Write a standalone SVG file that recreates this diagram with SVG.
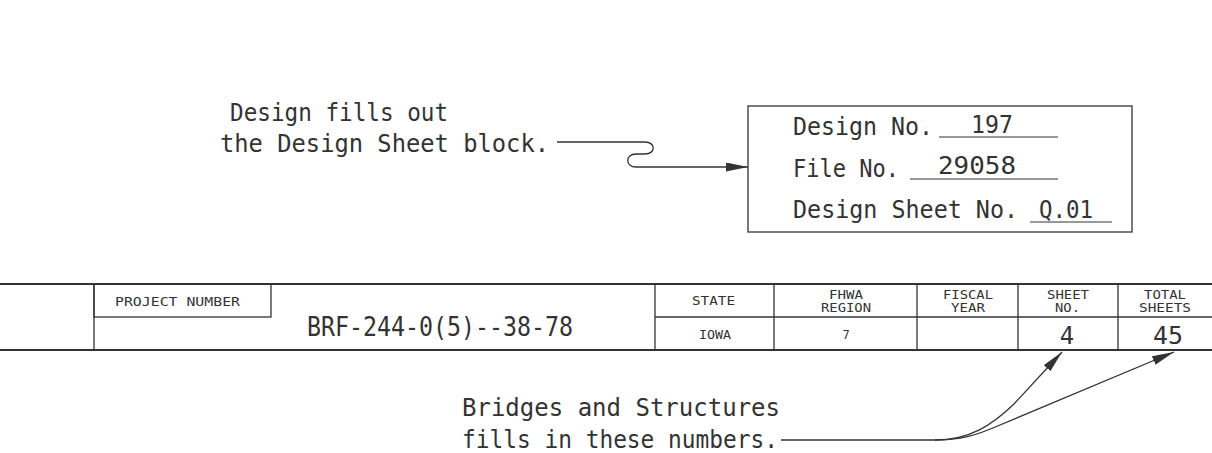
<svg xmlns="http://www.w3.org/2000/svg" width="1212" height="453" viewBox="0 0 1212 453">
<style>
text{font-family:"DejaVu Sans Mono","Liberation Mono",monospace;fill:#333333}
.big{font-size:24px}
.mid{font-size:27px}
.num{font-size:24px}
.sm{font-size:12px}
.ln{stroke:#333333;stroke-width:1.3;fill:none}
.thk{stroke:#333333;stroke-width:2.2;fill:none}
.ul{stroke:#333333;stroke-width:1.2}
.con{stroke:#333333;stroke-width:1.3;fill:none}
</style>
<defs>
<marker id="ah" markerUnits="userSpaceOnUse" markerWidth="24" markerHeight="10" refX="22" refY="4.5" orient="auto">
<path d="M0,0 L22,4.5 L0,9 Z" fill="#333333"/>
</marker>
</defs>
<rect width="1212" height="453" fill="#ffffff"/>

<g id="note-design">
<text class="big" x="230" y="121" textLength="218" lengthAdjust="spacingAndGlyphs">Design fills out</text>
<text class="big" x="220" y="152" textLength="329" lengthAdjust="spacingAndGlyphs">the Design Sheet block.</text>
</g>

<g id="design-block">
<rect class="ln" x="748" y="106" width="384" height="126" stroke-width="1.5"/>
<text class="big" x="793" y="135" textLength="140" lengthAdjust="spacingAndGlyphs">Design No.</text>
<line class="ul" x1="939" y1="137" x2="1058" y2="137"/>
<text class="big" x="971" y="133" textLength="42" lengthAdjust="spacingAndGlyphs">197</text>
<text class="big" x="793" y="177" textLength="106" lengthAdjust="spacingAndGlyphs">File No.</text>
<line class="ul" x1="910" y1="179" x2="1058" y2="179"/>
<text class="big" x="938" y="174" textLength="78" lengthAdjust="spacingAndGlyphs">29058</text>
<text class="big" x="793" y="218" textLength="225" lengthAdjust="spacingAndGlyphs">Design Sheet No.</text>
<line class="ul" x1="1030" y1="222" x2="1112" y2="222"/>
<text class="big" x="1039" y="218" textLength="54" lengthAdjust="spacingAndGlyphs">Q.01</text>
</g>

<g id="title-block">
<line class="thk" x1="0" y1="284" x2="1212" y2="284"/>
<line class="thk" x1="0" y1="350" x2="1212" y2="350"/>
<line class="ln" x1="94" y1="284" x2="94" y2="350"/>
<rect class="ln" x="94" y="284" width="177" height="33"/>
<text class="sm" x="115" y="306" textLength="125" lengthAdjust="spacingAndGlyphs">PROJECT NUMBER</text>
<text class="mid" x="307" y="336" textLength="266" lengthAdjust="spacingAndGlyphs">BRF-244-0(5)--38-78</text>
<line class="ln" x1="655" y1="284" x2="655" y2="350"/>
<line class="ln" x1="774" y1="284" x2="774" y2="350"/>
<line class="ln" x1="917" y1="284" x2="917" y2="350"/>
<line class="ln" x1="1018" y1="284" x2="1018" y2="350"/>
<line class="ln" x1="1118" y1="284" x2="1118" y2="350"/>
<line class="ln" x1="655" y1="317" x2="1212" y2="317"/>
<text class="sm" x="692" y="305" textLength="43" lengthAdjust="spacingAndGlyphs">STATE</text>
<text class="sm" x="829" y="299" textLength="34" lengthAdjust="spacingAndGlyphs">FHWA</text>
<text class="sm" x="821" y="312" textLength="50" lengthAdjust="spacingAndGlyphs">REGION</text>
<text class="sm" x="943" y="299" textLength="50" lengthAdjust="spacingAndGlyphs">FISCAL</text>
<text class="sm" x="951" y="312" textLength="34" lengthAdjust="spacingAndGlyphs">YEAR</text>
<text class="sm" x="1047" y="299" textLength="42" lengthAdjust="spacingAndGlyphs">SHEET</text>
<text class="sm" x="1055" y="312" textLength="25" lengthAdjust="spacingAndGlyphs">NO.</text>
<text class="sm" x="1144" y="299" textLength="42" lengthAdjust="spacingAndGlyphs">TOTAL</text>
<text class="sm" x="1139" y="312" textLength="52" lengthAdjust="spacingAndGlyphs">SHEETS</text>
<text class="sm" x="699" y="339" textLength="32" lengthAdjust="spacingAndGlyphs">IOWA</text>
<text class="sm" x="846" y="339" text-anchor="middle">7</text>
<text class="num" x="1067" y="344" text-anchor="middle">4</text>
<text class="num" x="1153" y="344" textLength="30" lengthAdjust="spacingAndGlyphs">45</text>
</g>

<g id="note-bridges">
<text class="big" x="462" y="416" textLength="318" lengthAdjust="spacingAndGlyphs">Bridges and Structures</text>
<text class="big" x="462" y="448" textLength="316" lengthAdjust="spacingAndGlyphs">fills in these numbers.</text>
</g>

<g id="connectors">
<path class="con" d="M557 142 H645 C656 142 656 154 645 154 H636 C625 154 625 167 636 167 H748" marker-end="url(#ah)"/>
<path class="con" d="M781 440 H935 C970 440 992 425 1014 404 L1062 352" marker-end="url(#ah)"/>
<path class="con" d="M935 440 C960 440 975 436 1000 425 L1174 352" marker-end="url(#ah)"/>
</g>
</svg>
